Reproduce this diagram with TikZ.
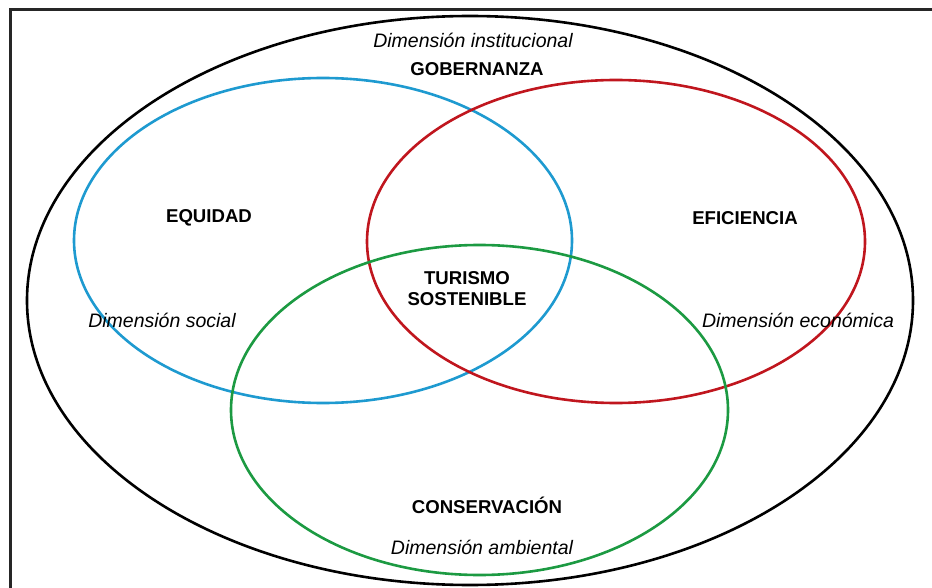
\documentclass[tikz,border=0pt]{standalone}
\usepackage{fontspec}
\setmainfont{Liberation Sans}
\definecolor{eqblue}{HTML}{1E9AD0}
\definecolor{efred}{HTML}{C0161E}
\definecolor{cogreen}{HTML}{1C9A42}
\begin{document}
\begin{tikzpicture}[x=1pt,y=-1pt,
  ring/.style={line width=2.6pt},
  lab/.style={font=\fontsize{18.6}{21}\selectfont\bfseries, align=center, inner sep=0pt},
  dim/.style={font=\fontsize{19.5}{22}\selectfont\itshape, inner sep=0pt}]
\useasboundingbox (0,0) rectangle (932,588);
\draw[line width=3pt, black!85] (10,600) -- (10,10) -- (945,10);
\draw[ring, black] (470,300.5) ellipse [x radius=443, y radius=284.5];
\draw[ring, eqblue] (323,240.5) ellipse [x radius=249, y radius=162.5];
\draw[ring, efred] (616,241.5) ellipse [x radius=249, y radius=161.5];
\draw[ring, cogreen] (479.5,410) ellipse [x radius=248.5, y radius=165];
\node[dim] (inst) at (473,40) {Dimensión institucional};
\node[lab] (gob) at (477,69) {GOBERNANZA};
\node[lab] (equ) at (209,218) {EQUIDAD};
\node[lab] (efi) at (745,218) {EFICIENCIA};
\node[lab] (tur) at (467,289) {TURISMO\\SOSTENIBLE};
\node[dim] (soc) at (162,320) {Dimensión social};
\node[dim] (eco) at (798,320) {Dimensión económica};
\node[lab] (con) at (487,505) {CONSERVACIÓN};
\node[dim] (amb) at (482,547) {Dimensión ambiental};
\end{tikzpicture}
\end{document}
